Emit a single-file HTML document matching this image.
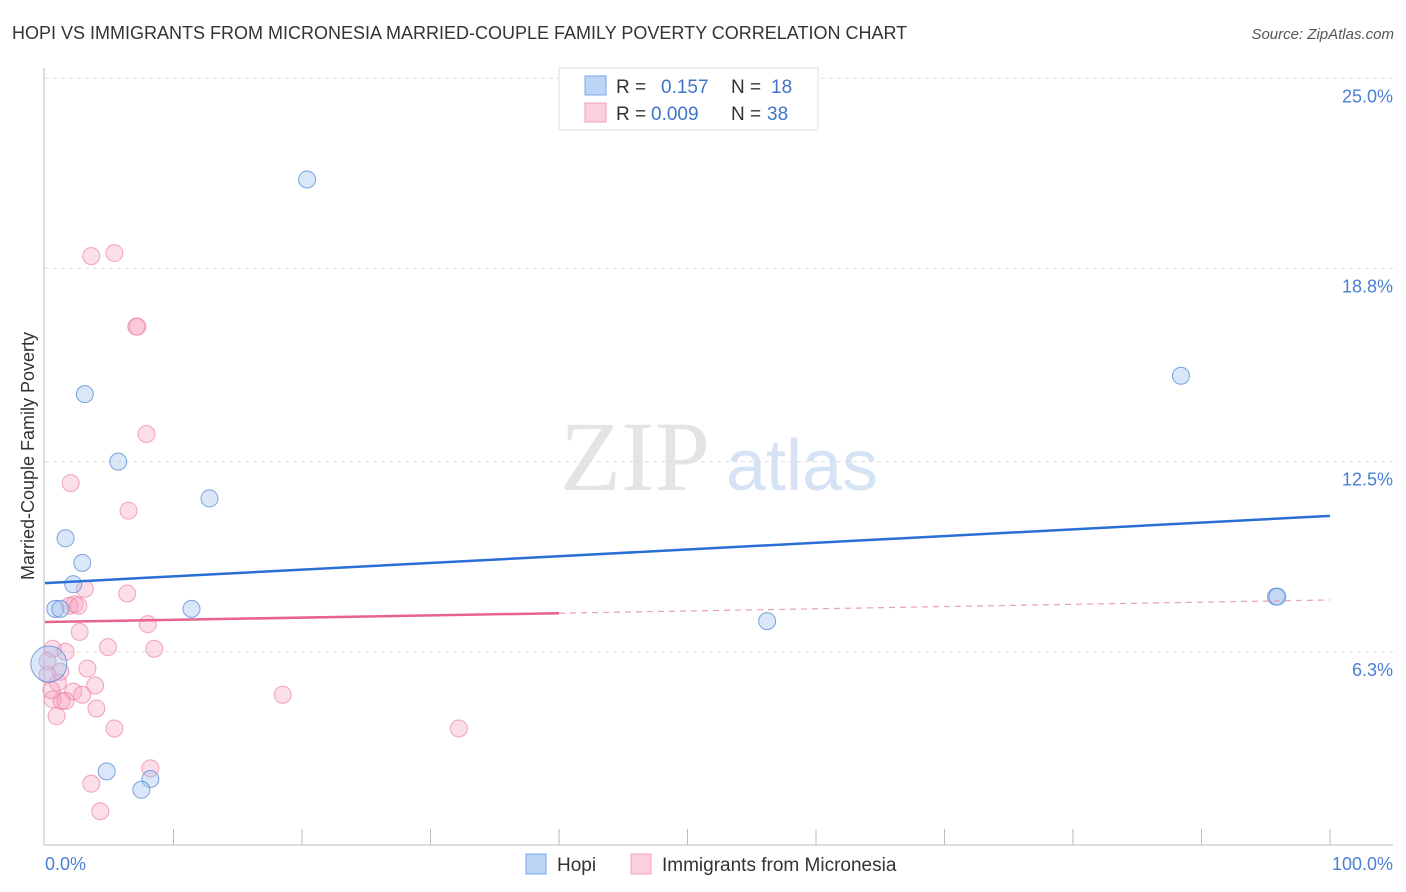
<!DOCTYPE html>
<html><head><meta charset="utf-8"><style>
body{margin:0;background:#fff;font-family:"Liberation Sans",sans-serif}
svg{display:block}
</style></head><body>
<svg id="c" width="1406" height="892" viewBox="0 0 1406 892">
<text x="12" y="39" font-size="18" fill="#333">HOPI VS IMMIGRANTS FROM MICRONESIA MARRIED-COUPLE FAMILY POVERTY CORRELATION CHART</text>
<text x="1394" y="39" font-size="15" fill="#555" font-style="italic" text-anchor="end">Source: ZipAtlas.com</text>
<g>
<text x="635" y="490" font-size="100" font-family="Liberation Serif,serif" fill="#e4e4e4" text-anchor="middle">ZIP</text>
<text x="802" y="490" font-size="72" fill="#d5e3f5" text-anchor="middle">atlas</text>
</g>
<g id="grid"></g>
<line x1="44" y1="68" x2="44" y2="845" stroke="#bbb"/>
<line x1="44" y1="845" x2="1393" y2="845" stroke="#bbb"/>
<text transform="translate(34,456) rotate(-90)" font-size="18" fill="#333" text-anchor="middle">Married-Couple Family Poverty</text>
<text x="45" y="870" font-size="18" fill="#4a7fd4">0.0%</text>
<text x="1393" y="870" font-size="18" fill="#4a7fd4" text-anchor="end">100.0%</text>
<g id="pts"></g>
<g id="lines"></g>
<g>
<rect x="559" y="68" width="259" height="62" fill="#fff" stroke="#ddd"/>
<rect x="585" y="76" width="21" height="19" fill="#bcd4f5" stroke="#7aa6e6"/>
<rect x="585" y="103" width="21" height="19" fill="#fbd0dc" stroke="#f0a0b8"/>
<text x="616" y="93" font-size="19" fill="#333">R =</text>
<text x="661" y="93" font-size="19" fill="#3f74cc">0.157</text>
<text x="731" y="93" font-size="19" fill="#333">N =</text>
<text x="771" y="93" font-size="19" fill="#3f74cc">18</text>
<text x="616" y="120" font-size="19" fill="#333">R =</text>
<text x="651" y="120" font-size="19" fill="#3f74cc">0.009</text>
<text x="731" y="120" font-size="19" fill="#333">N =</text>
<text x="767" y="120" font-size="19" fill="#3f74cc">38</text>
</g>
<g>
<rect x="526" y="854" width="20" height="20" fill="#bcd4f5" stroke="#7aa6e6"/>
<text x="557" y="871" font-size="19" fill="#333">Hopi</text>
<rect x="631" y="854" width="20" height="20" fill="#fbd0dc" stroke="#f0a0b8"/>
<text x="662" y="871" font-size="19" fill="#333">Immigrants from Micronesia</text>
</g>
</svg>
<script>
const yTicks=[25.0,18.8,12.5,6.3];
const yTickLabels=["25.0%","18.8%","12.5%","6.3%"];
const hopiX=[20.4,3.1,5.7,12.8,1.6,2.9,2.2,0.8,1.2,11.4,56.2,88.4,95.8,95.9,0.3,4.8,8.2,7.5];
const hopiY=[21.7,14.7,12.5,11.3,10.0,9.2,8.5,7.7,7.7,7.7,7.3,15.3,8.1,8.1,5.9,2.4,2.15,1.8];
const micX=[3.6,5.4,7.1,7.2,7.9,2.0,6.5,3.1,6.4,2.3,1.9,2.6,8.0,2.7,4.9,8.5,0.6,1.6,1.2,3.3,1.0,3.9,0.2,0.6,2.2,2.9,1.3,1.6,4.0,0.9,5.4,18.5,32.2,8.2,3.6,4.3,0.2,0.5];
const micY=[19.2,19.3,16.9,16.9,13.4,11.8,10.9,8.35,8.2,7.85,7.8,7.8,7.2,6.95,6.45,6.4,6.4,6.3,5.65,5.75,5.3,5.2,5.55,4.75,5.0,4.9,4.7,4.7,4.45,4.2,3.8,4.9,3.8,2.5,2.0,1.1,6.0,5.05];
const hopiTrend=[8.54,10.73];
const micTrend=[7.27,7.99];
const NS="http://www.w3.org/2000/svg";
const X=v=>45+v*12.85, Y=v=>845-v*30.67;
function mk(t,a,p){const e=document.createElementNS(NS,t);for(const k in a)e.setAttribute(k,a[k]);p.appendChild(e);return e;}
const grid=document.getElementById('grid');
yTicks.forEach((t,i)=>{
 const l=mk('line',{x1:45,x2:1393,y1:Y(t),y2:Y(t),stroke:'#ddd','stroke-dasharray':'4,4'},grid);
 
 
 const tx=mk('text',{x:1393,y:Y(t)+24,'font-size':18,fill:'#4a7fd4','text-anchor':'end'},grid);
 tx.textContent=yTickLabels[i];
 
 
});
for(let i=1;i<=10;i++){
 const l=mk('line',{x1:X(i*10),x2:X(i*10),y1:829,y2:845,stroke:'#bbb'},grid);
 
 
}
const pts=document.getElementById('pts');
micX.forEach((v,i)=>{
 const c=mk('circle',{cx:X(v),cy:Y(micY[i]),r:8.5,fill:'rgba(246,160,188,0.35)',stroke:'rgba(235,130,165,0.7)','stroke-width':1},pts);
 
 
});
hopiX.forEach((v,i)=>{
 const big=(i===14);
 const c=mk('circle',{cx:X(v),cy:Y(hopiY[i]),r:big?18:8.5,fill:'rgba(160,195,240,0.4)',stroke:'rgba(80,135,215,0.75)','stroke-width':1},pts);
 
 
});
const lines=document.getElementById('lines');
const hl=mk('line',{x1:X(0),y1:Y(hopiTrend[0]),x2:X(100),y2:Y(hopiTrend[1]),stroke:'#2a6fd6','stroke-width':2.5},lines);


const mAt=v=>micTrend[0]+(micTrend[1]-micTrend[0])*v/100;
const ml=mk('line',{x1:X(0),y1:Y(mAt(0)),x2:X(40),y2:Y(mAt(40)),stroke:'#e8628e','stroke-width':2.5},lines);


const md=mk('line',{x1:X(40),y1:Y(mAt(40)),x2:X(100),y2:Y(mAt(100)),stroke:'#e8a0b8','stroke-width':1.2,'stroke-dasharray':'6,5'},lines);


</script>
</body></html>
